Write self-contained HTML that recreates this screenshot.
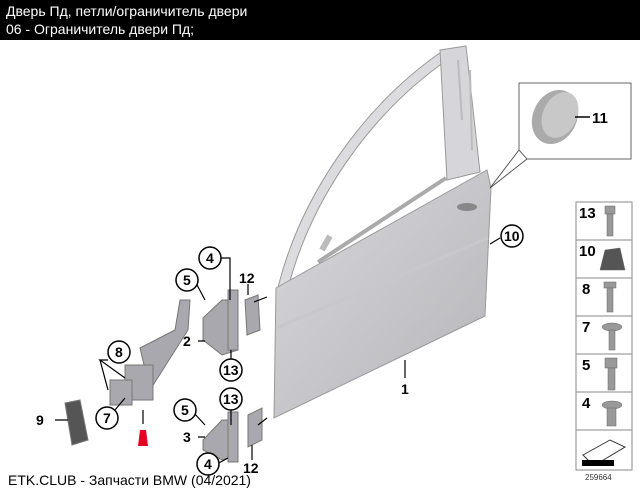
<!DOCTYPE html>
<html><head><meta charset="utf-8"><style>
body{margin:0;width:640px;height:488px;background:#fff;overflow:hidden;font-family:"Liberation Sans",sans-serif;}
#hd{position:absolute;left:0;top:0;width:640px;height:40px;background:#000;color:#fff;font-size:14px;line-height:18px;padding:2px 0 0 6px;box-sizing:border-box}
svg{position:absolute;left:0;top:0}
</style></head><body>
<svg width="640" height="488" viewBox="0 0 640 488" font-family="Liberation Sans, sans-serif">
<defs><linearGradient id="g" x1="0" y1="0" x2="1" y2="1"><stop offset="0" stop-color="#d8d8dc"/><stop offset="1" stop-color="#b4b4ba"/></linearGradient></defs>
<!-- window frame -->
<path d="M283,288 C305,200 365,110 447,54" fill="none" stroke="#999" stroke-width="11"/>
<path d="M283,288 C305,200 365,110 447,54" fill="none" stroke="#dcdce0" stroke-width="9"/>
<path d="M440,50 L466,46 L480,172 L447,180 Z" fill="#d6d6da" stroke="#999"/>
<path d="M458,60 L462,120 M470,70 L472,150" stroke="#bbb" stroke-width="2"/>
<path d="M318,262 L446,178" stroke="#aaa" stroke-width="4"/>
<path d="M322,250 L330,236" stroke="#bbb" stroke-width="6"/>
<!-- door panel -->
<path d="M276,288 L487,170 L491,188 L485,316 L274,418 Z" fill="url(#g)" stroke="#999" stroke-width="1"/>
<path d="M276,328 L488,238" stroke="#c8c8cc" stroke-width="3"/>
<ellipse cx="467" cy="207" rx="10" ry="4" fill="#888"/>
<!-- inset -->
<path d="M519,150 L519,83 L631,83 L631,159 L527,159 Z" fill="#fff" stroke="#666"/>
<path d="M490,188 L519,150 M490,188 L527,159" stroke="#555"/>
<ellipse cx="555" cy="117" rx="22" ry="28" fill="#aaa" transform="rotate(25 555 117)"/>
<ellipse cx="560" cy="115" rx="17" ry="24" fill="#c8c8c8" transform="rotate(25 560 115)"/>
<line x1="575" y1="117" x2="590" y2="117" stroke="#000" stroke-width="1.5"/>
<text x="592" y="123" font-size="15" font-weight="bold">11</text>
<!-- right panel -->
<g stroke="#888" fill="#fff">
<rect x="576" y="202" width="56" height="38"/><rect x="576" y="240" width="56" height="38"/><rect x="576" y="278" width="56" height="38"/><rect x="576" y="316" width="56" height="38"/><rect x="576" y="354" width="56" height="38"/><rect x="576" y="392" width="56" height="38"/><rect x="576" y="430" width="56" height="40"/>
</g>
<g font-size="15" font-weight="bold">
<text x="579" y="218">13</text><text x="579" y="256">10</text><text x="582" y="294">8</text><text x="582" y="332">7</text><text x="582" y="370">5</text><text x="582" y="408">4</text></g>
<g fill="#999" stroke="#666" stroke-width=".5">
<rect x="605" y="206" width="10" height="8"/><rect x="607" y="214" width="6" height="22"/>
<path d="M600,270 L605,250 L620,248 L625,270 Z" fill="#555"/>
<rect x="604" y="282" width="12" height="6"/><rect x="607" y="288" width="6" height="24"/>
<ellipse cx="612" cy="327" rx="10" ry="4"/><rect x="609" y="330" width="6" height="20"/>
<rect x="605" y="358" width="12" height="10"/><rect x="608" y="368" width="7" height="22"/>
<ellipse cx="612" cy="405" rx="10" ry="4"/><rect x="607" y="408" width="9" height="18"/>
</g>
<path d="M583,455 L610,440 L625,447 L600,462 L590,462 Z" fill="#fff" stroke="#333"/>
<rect x="582" y="460" width="32" height="6" fill="#000"/>
<text x="585" y="480" font-size="8" fill="#333">259664</text>
<!-- hinges -->
<g fill="#a8a8ae" stroke="#777">
<path d="M203,318 L222,300 L238,300 L238,350 L222,355 L203,340 Z"/>
<rect x="228" y="290" width="10" height="60"/>
<path d="M245,300 L258,295 L260,330 L247,335 Z"/>
<path d="M203,440 L222,420 L238,420 L238,455 L222,460 L203,450 Z"/>
<rect x="228" y="412" width="10" height="50"/>
<path d="M248,415 L262,408 L262,440 L248,447 Z"/>
<path d="M140,348 L175,330 L180,300 L190,300 L188,330 L150,390 Z"/>
<rect x="125" y="365" width="28" height="35"/>
<rect x="110" y="380" width="22" height="25"/>
<path d="M65,403 L80,400 L88,440 L72,445 Z" fill="#555"/>
</g>
<!-- leaders -->
<g stroke="#000" stroke-width="1.2" fill="none">
<path d="M267,297 L254,302 M267,418 L258,425 M490,244 L500,238 M405,378 L405,360 M143,424 L143,410 M55,420 L68,420 M198,341 L205,341 M198,437 L205,437 M219,258 L230,258 L230,300 M217,464 L228,458 M196,283 L205,300 M194,413 L205,425 M231,380 L231,350 M231,410 L231,425 M108,360 L100,360 L125,378 M100,360 L108,390 M115,410 L125,398 M248,284 L248,295 M252,460 L252,445"/>
</g>
<path d="M140,430 L146,430 L148,446 L138,446 Z" fill="#e60023"/>
<g font-size="14" font-weight="bold">
<g fill="#fff" stroke="#000" stroke-width="1.5">
<circle cx="512" cy="236" r="11"/><circle cx="210" cy="258" r="11"/><circle cx="187" cy="280" r="11"/><circle cx="231" cy="370" r="11"/><circle cx="231" cy="399" r="11"/><circle cx="185" cy="410" r="11"/><circle cx="208" cy="464" r="11"/><circle cx="119" cy="352" r="11"/><circle cx="107" cy="418" r="11"/></g>
<text x="504" y="241">10</text><text x="206" y="263">4</text><text x="183" y="285">5</text><text x="223" y="375">13</text><text x="223" y="404">13</text><text x="181" y="415">5</text><text x="204" y="469">4</text><text x="115" y="357">8</text><text x="103" y="423">7</text>
<text x="239" y="283">12</text><text x="243" y="473">12</text><text x="401" y="394">1</text><text x="183" y="346">2</text><text x="183" y="442">3</text><text x="36" y="425">9</text></g>
<text x="8" y="485" font-size="14">ETK.CLUB - Запчасти BMW (04/2021)</text>
</svg>
<div id="hd">Дверь Пд, петли/ограничитель двери<br>06 - Ограничитель двери Пд;</div>
</body></html>
